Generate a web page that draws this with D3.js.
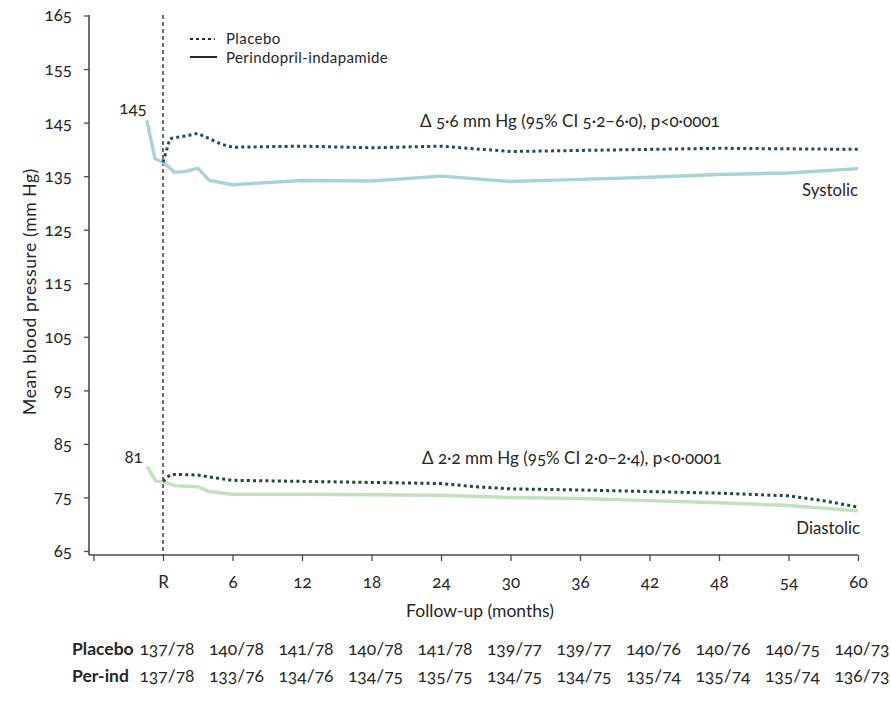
<!DOCTYPE html>
<html>
<head>
<meta charset="utf-8">
<script src="https://cdn.jsdelivr.net/npm/d3@7"></script>
<style>
  html, body { margin: 0; padding: 0; background: #fff; }
  svg { display: block; }
  text { font-family: Lato, "Open Sans", sans-serif; fill: #262626; font-variant-numeric: oldstyle-nums; }
</style>
</head>
<body>
<svg id="chart" width="891" height="701"></svg>
<script>
// Months since randomisation (R = 0); negative values are the run-in visits
const sysPlaceboMonths = [0, 0.6, 1, 2, 3, 4, 5, 6, 12, 18, 24, 30, 36, 42, 48, 54, 60];
const sysPlacebo       = [137.6, 142.0, 142.2, 142.5, 143.0, 142.0, 141.0, 140.4, 140.6, 140.3, 140.6, 139.6, 139.8, 140.0, 140.2, 140.1, 140.0];

const sysActiveMonths  = [-1.4, -0.7, 0, 1, 2, 3, 4, 6, 12, 18, 24, 30, 36, 42, 48, 54, 60];
const sysActive        = [145.4, 138.3, 137.6, 135.7, 135.9, 136.5, 134.2, 133.4, 134.2, 134.1, 135.0, 134.0, 134.4, 134.8, 135.3, 135.6, 136.4];

const diaPlaceboMonths = [0, 0.6, 1, 3, 5, 6, 12, 18, 24, 27, 30, 36, 42, 48, 54, 57, 60];
const diaPlacebo       = [78.0, 79.2, 79.3, 79.2, 78.5, 78.2, 78.0, 77.8, 77.6, 77.0, 76.6, 76.4, 76.1, 75.8, 75.3, 74.4, 73.2];

const diaActiveMonths  = [-1.4, -0.6, 0, 1, 3, 4, 6, 12, 18, 24, 30, 36, 42, 48, 54, 60];
const diaActive        = [80.8, 78.0, 78.0, 77.2, 77.0, 76.1, 75.6, 75.6, 75.5, 75.4, 75.0, 74.8, 74.4, 74.0, 73.5, 72.5];

// Axis ticks and labels
const xTicks = [-6, 0, 6, 12, 18, 24, 30, 36, 42, 48, 54, 60];
const yTicks = [65, 75, 85, 95, 105, 115, 125, 135, 145, 155, 165];
const tableMonths = [0, 6, 12, 18, 24, 30, 36, 42, 48, 54, 60];
const placeboRow = ["137/78", "140/78", "141/78", "140/78", "141/78", "139/77", "139/77", "140/76", "140/76", "140/75", "140/73"];
const activeRow  = ["137/78", "133/76", "134/76", "134/75", "135/75", "134/75", "134/75", "135/74", "135/74", "135/74", "136/73"];

const svg = d3.select("#chart");

const x = d3.scaleLinear().domain([-6, 60]).range([93.5, 858]);
const y = d3.scaleLinear().domain([65, 165]).range([551, 15.5]);
const axisX = 89, axisY = 555;
const axisColor = "#4a4a4a";
const tickFont = 17;

// Y axis
const yAxis = svg.append("g")
  .attr("transform", `translate(${axisX},0)`)
  .call(d3.axisLeft(y).tickValues(yTicks).tickSize(5).tickSizeOuter(0).tickPadding(12));
yAxis.select(".domain").remove();
yAxis.selectAll(".tick line").attr("stroke", axisColor).attr("stroke-width", 1.3);
yAxis.selectAll(".tick text").attr("font-size", tickFont).attr("font-family", "Lato, sans-serif").attr("fill", "#262626");
svg.append("line").attr("x1", axisX).attr("x2", axisX).attr("y1", 15).attr("y2", axisY)
  .attr("stroke", axisColor).attr("stroke-width", 1.6);

// X axis
const xAxis = svg.append("g")
  .attr("transform", `translate(0,${axisY})`)
  .call(d3.axisBottom(x).tickValues(xTicks).tickSize(6).tickSizeOuter(0).tickPadding(15)
    .tickFormat(d => d === -6 ? "" : (d === 0 ? "R" : d)));
xAxis.select(".domain").remove();
xAxis.selectAll(".tick line").attr("stroke", axisColor).attr("stroke-width", 1.3);
xAxis.selectAll(".tick text").attr("font-size", tickFont).attr("font-family", "Lato, sans-serif").attr("fill", "#262626");
svg.append("line").attr("x1", axisX).attr("x2", x(60)).attr("y1", axisY).attr("y2", axisY)
  .attr("stroke", axisColor).attr("stroke-width", 1.6);

// Randomisation marker
svg.append("line")
  .attr("x1", x(0)).attr("x2", x(0)).attr("y1", 15).attr("y2", axisY)
  .attr("stroke", "#333").attr("stroke-width", 1.4).attr("stroke-dasharray", "4,3");

// Axis titles
svg.append("text")
  .attr("transform", `translate(36,${(163 + 420) / 2}) rotate(-90)`)
  .attr("text-anchor", "middle").attr("font-size", 17.5)
  .style("letter-spacing", "0.6px")
  .text("Mean blood pressure (mm Hg)");
svg.append("text")
  .attr("x", 480).attr("y", 617).attr("text-anchor", "middle").attr("font-size", 17.5)
  .text("Follow-up (months)");

// Lines
const line = d3.line().x(d => x(d[0])).y(d => y(d[1]));
const pairs = (ms, vs) => ms.map((m, i) => [m, vs[i]]);

const series = [
  { data: pairs(sysActiveMonths, sysActive), color: "#a6d3da", dash: null },
  { data: pairs(diaActiveMonths, diaActive), color: "#c0e1ba", dash: null },
  { data: pairs(sysPlaceboMonths, sysPlacebo), color: "#1f4c6c", dash: "3,3.2" },
  { data: pairs(diaPlaceboMonths, diaPlacebo), color: "#1d4a3a", dash: "3,3.2" }
];
series.forEach(s => {
  svg.append("path")
    .datum(s.data)
    .attr("d", line)
    .attr("fill", "none")
    .attr("stroke", s.color)
    .attr("stroke-width", s.dash ? 3 : 3.4)
    .attr("stroke-linejoin", "round")
    .attr("stroke-dasharray", s.dash);
});

// Starting values
svg.append("text").attr("x", x(-1.4)).attr("y", 114).attr("text-anchor", "end")
  .attr("font-size", tickFont).text("145");
svg.append("text").attr("x", x(-1.4) - 4).attr("y", 463).attr("text-anchor", "end")
  .attr("font-size", tickFont).text("81");

// Treatment differences
svg.append("text").attr("x", 420).attr("y", 127).attr("font-size", 17)
  .text("Δ 5·6 mm Hg (95% CI 5·2–6·0), p<0·0001");
svg.append("text").attr("x", 422).attr("y", 464).attr("font-size", 17)
  .text("Δ 2·2 mm Hg (95% CI 2·0–2·4), p<0·0001");

svg.append("text").attr("x", x(60)).attr("y", 196).attr("text-anchor", "end")
  .attr("font-size", 16.8).text("Systolic");
svg.append("text").attr("x", x(60) + 2).attr("y", 534).attr("text-anchor", "end")
  .attr("font-size", 16.8).text("Diastolic");

// Legend
const legend = svg.append("g");
legend.append("line").attr("x1", 190).attr("x2", 215).attr("y1", 39).attr("y2", 39)
  .attr("stroke", "#2a2a2a").attr("stroke-width", 2).attr("stroke-dasharray", "3,3");
legend.append("line").attr("x1", 190).attr("x2", 217).attr("y1", 57).attr("y2", 57)
  .attr("stroke", "#2a2a2a").attr("stroke-width", 2);
legend.append("text").attr("x", 226).attr("y", 44).attr("font-size", 15)
  .style("letter-spacing", "0.4px").text("Placebo");
legend.append("text").attr("x", 226).attr("y", 62.5).attr("font-size", 15)
  .style("letter-spacing", "0.4px").text("Perindopril-indapamide");

// Mean values table
const rows = [
  { label: "Placebo", values: placeboRow, y: 655 },
  { label: "Per-ind", values: activeRow, y: 682 }
];
rows.forEach(r => {
  svg.append("text").attr("x", 72).attr("y", r.y).attr("font-size", 17.5)
    .attr("font-weight", "bold").text(r.label);
  svg.append("g").selectAll("text")
    .data(tableMonths)
    .join("text")
    .attr("x", d => x(d) + 4)
    .attr("y", r.y)
    .attr("text-anchor", "middle")
    .attr("font-size", 17.5)
    .text((d, i) => r.values[i]);
});
</script>
</body>
</html>
